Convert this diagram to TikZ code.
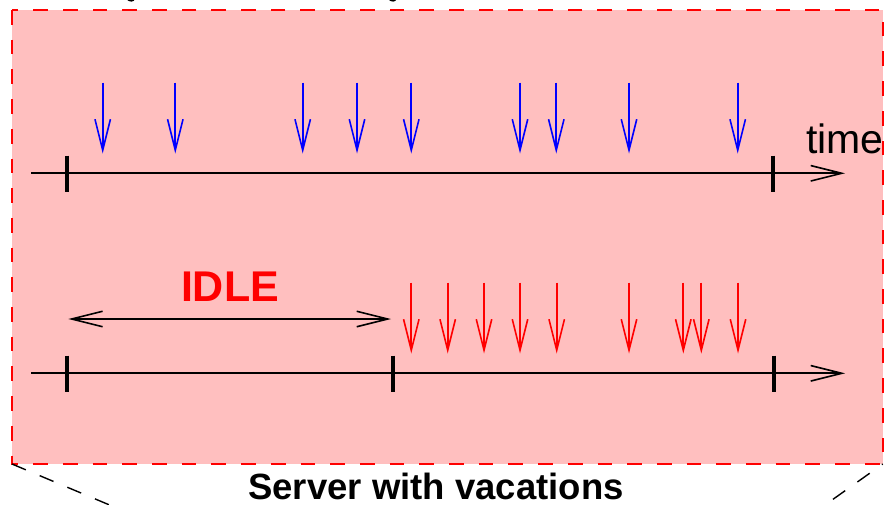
\documentclass[tikz,border=0pt]{standalone}
\usepackage{fontspec}
\setmainfont{Liberation Sans}
\usetikzlibrary{arrows.meta}
\definecolor{pinkbg}{RGB}{255,191,191}
\definecolor{arrblue}{RGB}{0,0,255}
\definecolor{arrred}{RGB}{255,0,0}
\begin{document}
\begin{tikzpicture}[x=1pt,y=-1pt,
  barb/.tip={Straight Barb[length=31pt,width=15.5pt,line width=1.6pt]},
  axisline/.style={line width=1.8pt,-barb},
  tickmark/.style={line width=3.8pt},
  arrival/.style={line width=1.7pt,-barb},
  idlearrow/.style={line width=1.8pt,barb-barb},
  boxstyle/.style={draw=arrred,fill=pinkbg,line width=2pt,dash pattern=on 14.7pt off 15pt},
  zoomline/.style={black,line width=1.4pt,dash pattern=on 15pt off 15pt},
  bigbold/.style={font=\bfseries\fontsize{43}{43}\selectfont},
  caption/.style={font=\bfseries\fontsize{36.5}{36.5}\selectfont},
  timelabel/.style={font=\fontsize{41}{41}\selectfont}]
\clip (0,0) rectangle (890,504);
% box
\coordinate (boxtl) at (12,10);
\coordinate (boxbr) at (882.7,464);
\coordinate (boxbl) at (12,464);
\draw[boxstyle] (boxtl) rectangle (boxbr);
% zoom lines
\coordinate (zl) at (12+250,464+105);
\coordinate (zr) at (882.7-150,464+106.5);
\draw[zoomline,dash phase=0pt] (boxbl) -- (zl);
\draw[zoomline,dash phase=14pt] (boxbr) -- (zr);
% tiny descender tails of clipped title
\fill[black] (126,-1) .. controls (130,3) and (134,2) .. (135,-1) -- cycle;
\fill[black] (387.7,-1) .. controls (391.7,3) and (395.7,2) .. (396.7,-1) -- cycle;
% top timeline
\coordinate (ta) at (31,173.3);
\coordinate (tb) at (845,173.3);
\draw[axisline] (ta) -- (tb);
\foreach \x [count=\i] in {66.7,773.3} {
  \coordinate (tt\i a) at (\x,155.5);
  \coordinate (tt\i b) at (\x,191.5);
  \draw[tickmark] (tt\i a) -- (tt\i b);
}
\foreach \x [count=\i] in {102.7,175.3,302.7,357,411.3,520,556.3,629,737.7} {
  \coordinate (ba\i) at (\x,82.7);
  \coordinate (bb\i) at (\x,153.5);
  \draw[arrival,draw=arrblue] (ba\i) -- (bb\i);
}
\node[timelabel,anchor=base west,inner sep=0pt] (time) at (806,153.3) {time};
% bottom timeline
\coordinate (la) at (31,373.3);
\coordinate (lb) at (845,373.3);
\draw[axisline] (la) -- (lb);
\foreach \x [count=\i] in {66.7,393.3,774.3} {
  \coordinate (lt\i a) at (\x,355.5);
  \coordinate (lt\i b) at (\x,391.5);
  \draw[tickmark] (lt\i a) -- (lt\i b);
}
\foreach \x [count=\i] in {411.3,447.7,484,520,556.7,629,683.3,701.3,738} {
  \coordinate (ra\i) at (\x,282.7);
  \coordinate (rb\i) at (\x,353.5);
  \draw[arrival,draw=arrred] (ra\i) -- (rb\i);
}
% idle
\coordinate (ia) at (68.3,319);
\coordinate (ib) at (391,319);
\draw[idlearrow] (ia) -- (ib);
\node[bigbold,text=arrred,anchor=base,inner sep=0pt] (idle) at (230,301.7) {IDLE};
% caption
\node[caption,anchor=base,inner sep=0pt] (cap) at (436,499.5) {Server with vacations};
\end{tikzpicture}
\end{document}
